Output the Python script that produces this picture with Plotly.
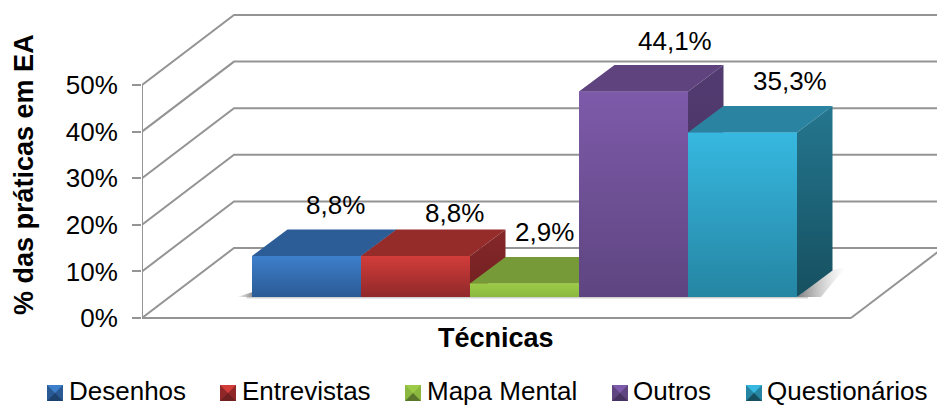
import plotly.graph_objects as go

categories = ["Desenhos", "Entrevistas", "Mapa Mental", "Outros", "Questionários"]
values = [8.8, 8.8, 2.9, 44.1, 35.3]
value_labels = ["8,8%", "8,8%", "2,9%", "44,1%", "35,3%"]
tick_values = [0, 10, 20, 30, 40, 50]
tick_labels = ["0%", "10%", "20%", "30%", "40%", "50%"]
x_title = "Técnicas"
y_title = "% das práticas em EA"

front_top = ["#3E7FCC", "#D23D3A", "#9CCB48", "#7E5AAA", "#37B8E0"]
front_bottom = ["#2A5A94", "#90282A", "#8AB83E", "#5E4580", "#2585A3"]
top_face = ["#2C5D97", "#962C2A", "#769A38", "#5E437F", "#2A84A1"]
side_top = ["#2A568A", "#86282A", "#6A8A32", "#523B70", "#24768F"]
side_bottom = ["#1E4270", "#701F20", "#5A762A", "#463260", "#165060"]

WIDTH, HEIGHT = 937, 406
ML, MB = 142, 80
PX_X, PX_Y = 109.0, 4.66
X0_PX, Y0_PX = 252, 318
GRID = "#949494"

xrange_ = [(ML - X0_PX) / PX_X, (WIDTH - X0_PX) / PX_X]
yrange_ = [(Y0_PX - (HEIGHT - MB)) / PX_Y, Y0_PX / PX_Y]
xleft = xrange_[0]
wall_dx, wall_dy = 92 / PX_X, 70 / PX_Y
floor_right = (851 - X0_PX) / PX_X
bar_dx, bar_dy = 35.5 / PX_X, 26.5 / PX_Y
bar_base = (Y0_PX - 297) / PX_Y

fig = go.Figure()


def line(xs, ys, xa="x", ya="y", width=2):
    fig.add_trace(go.Scatter(x=xs, y=ys, mode="lines", xaxis=xa, yaxis=ya, showlegend=False,
                             hoverinfo="skip", cliponaxis=False if xs[0] == xs[1] else True,
                             line=dict(color=GRID, width=width)))


def face(xs, ys, c_first, c_second, xa, ya, orient="vertical"):
    # For a vertical gradient c_first is the top colour; for a horizontal one, the left colour.
    scale = [[0, c_second], [1, c_first]] if orient == "vertical" else [[0, c_first], [1, c_second]]
    fig.add_trace(go.Scatter(
        x=xs + xs[:1], y=ys + ys[:1], mode="lines", fill="toself", xaxis=xa, yaxis=ya,
        line=dict(width=0), showlegend=False, hoverinfo="skip",
        fillgradient=dict(type=orient, colorscale=scale)))


# Walls and floor, derived from the axis ticks
for t in tick_values:
    line([xleft, xleft + wall_dx, xrange_[1]], [t, t + wall_dy, t + wall_dy])
line([xleft, xleft], [0, tick_values[-1]])
line([xleft, floor_right], [0, 0])
line([floor_right, floor_right + wall_dx], [0, wall_dy])

# Soft floor shadows
face([-0.14, 0, 0], [bar_base, bar_base + 1.0, bar_base], "rgba(120,120,120,0)", "rgba(120,120,120,0.8)",
     "x", "y", "horizontal")
face([-0.05, 5.1, 5.1, -0.05], [bar_base, bar_base, bar_base - 0.5, bar_base - 0.5], "rgba(170,170,170,0.7)",
     "rgba(170,170,170,0)", "x", "y")
face([5 + bar_dx - 0.02, 5 + bar_dx + 0.12, 5 + 0.22, 5],
     [bar_base + bar_dy, bar_base + bar_dy + 0.7, bar_base, bar_base],
     "rgba(80,80,80,0.75)", "rgba(170,170,170,0)", "x", "y", "horizontal")

# Bars, painted left to right so that each hides the side of the previous one
for i, (name, v) in enumerate(zip(categories, values)):
    n = i + 2
    xa, ya = f"x{n}", f"y{n}"
    x0, x1 = i, i + 1
    top = bar_base + v
    fig.add_trace(go.Bar(x=[i + 0.5], y=[v], base=[bar_base], width=[1], name=name, xaxis=xa, yaxis=ya,
                         marker=dict(color=front_bottom[i], line=dict(width=0)), showlegend=False,
                         hovertemplate=f"{name}: {value_labels[i]}<extra></extra>"))
    face([x0, x0 + bar_dx, x1 + bar_dx, x1], [top, top + bar_dy, top + bar_dy, top],
         top_face[i], top_face[i], xa, ya)
    face([x1, x1 + bar_dx, x1 + bar_dx, x1], [top, top + bar_dy, bar_base + bar_dy, bar_base],
         side_top[i], side_bottom[i], xa, ya)
    face([x0, x1, x1, x0], [top, top, bar_base, bar_base], front_top[i], front_bottom[i], xa, ya)

label_dx = [29, 39, 20, 41, 47]
label_dy = [51, 43, 51, 50, 52]
annotations = [
    dict(x=i + 0.5, y=bar_base + v, xref="x", yref="y", text=value_labels[i], showarrow=False,
         xshift=label_dx[i], yshift=label_dy[i], font=dict(size=26))
    for i, v in enumerate(values)
]


# Legend row and axis titles, placed in page pixels
def px(p):
    return (p - ML) / (WIDTH - ML)


def py(p):
    return ((HEIGHT - MB) - p) / (HEIGHT - MB)


annotations.append(dict(x=px(496), y=py(338), xref="paper", yref="paper", text=f"<b>{x_title}</b>",
                        showarrow=False, xanchor="center", yanchor="middle", font=dict(size=27)))
annotations.append(dict(x=px(24), y=py(175), xref="paper", yref="paper", text=f"<b>{y_title}</b>",
                        showarrow=False, xanchor="center", yanchor="middle", textangle=-90,
                        font=dict(size=27)))

legend_swatch = [47, 220, 405, 612, 746]
legend_text = [67, 240, 425, 631, 765]
shapes = []
SW, SY = 16, 385
for i, name in enumerate(categories):
    a = legend_swatch[i]
    b, c, d = a + SW, SY, SY + SW
    cx, cy = a + SW / 2, SY + SW / 2
    shapes.append(dict(type="rect", xref="paper", yref="paper", x0=px(a), x1=px(b), y0=py(d), y1=py(c),
                       fillcolor=front_bottom[i], line=dict(width=0), layer="above"))
    tris = [
        ([a, b, cx], [c, c, cy], front_top[i]),
        ([a, b, cx], [d, d, cy], side_bottom[i]),
    ]
    for tx, ty, col in tris:
        path = f"M{px(tx[0])},{py(ty[0])}L{px(tx[1])},{py(ty[1])}L{px(tx[2])},{py(ty[2])}Z"
        shapes.append(dict(type="path", xref="paper", yref="paper", path=path, fillcolor=col,
                           line=dict(width=0), layer="above"))
    annotations.append(dict(x=px(legend_text[i]), y=py(391), xref="paper", yref="paper", text=name,
                            showarrow=False, xanchor="left", yanchor="middle", font=dict(size=26)))

axes = dict(
    xaxis=dict(range=xrange_, showgrid=False, zeroline=False, showticklabels=False, ticks=""),
    yaxis=dict(range=yrange_, showgrid=False, zeroline=False, tickvals=tick_values, ticktext=tick_labels,
               ticks="outside", ticklen=9, tickwidth=2, tickcolor=GRID, ticklabelstandoff=9,
               tickfont=dict(size=26)),
)
for n in range(2, 7):
    axes[f"xaxis{n}"] = dict(range=xrange_, overlaying="x", visible=False)
    axes[f"yaxis{n}"] = dict(range=yrange_, overlaying="y", visible=False)

fig.update_layout(
    width=WIDTH, height=HEIGHT, margin=dict(l=ML, r=0, t=0, b=MB, pad=0, autoexpand=False),
    paper_bgcolor="white", plot_bgcolor="white", showlegend=False, barmode="overlay",
    font=dict(family="Liberation Sans, Arial, sans-serif", color="black"),
    annotations=annotations, shapes=shapes, **axes,
)
fig.write_html("out.html", config={"displayModeBar": False},
               post_script="document.body.style.margin='0';document.documentElement.style.overflow='hidden';")
